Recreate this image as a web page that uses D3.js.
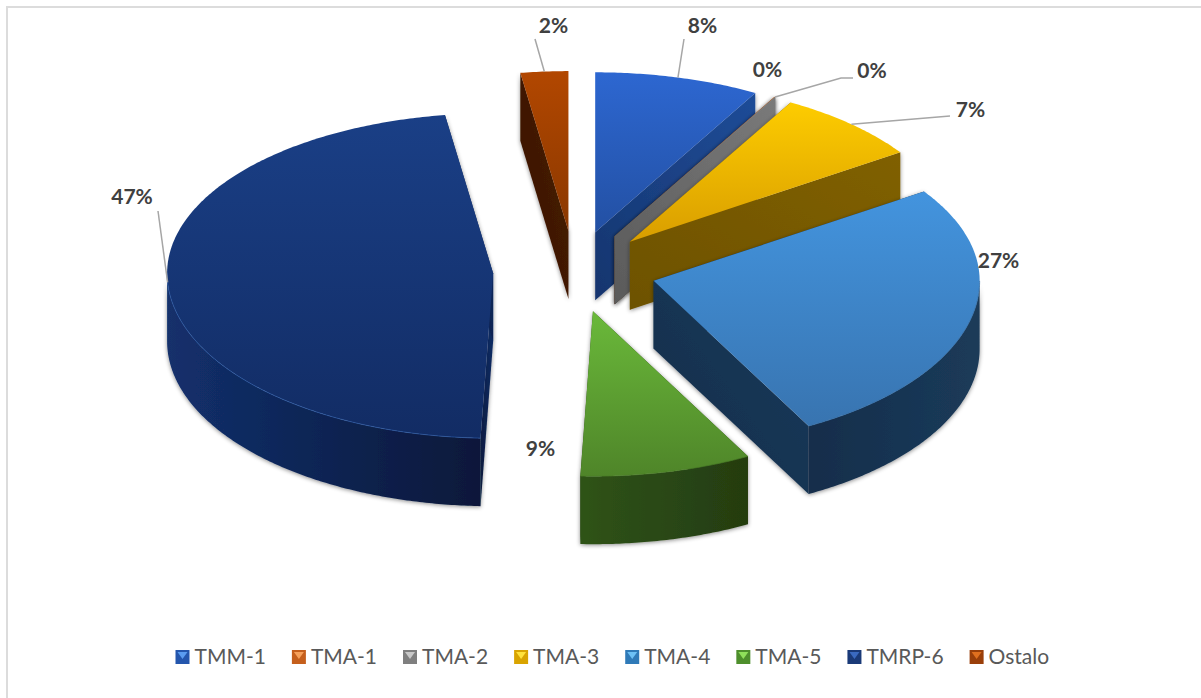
<!DOCTYPE html>
<html><head><meta charset="utf-8">
<script src="https://cdn.jsdelivr.net/npm/d3@7/dist/d3.min.js"></script>
<style>html,body{margin:0;padding:0;background:#fff}svg{display:block}</style></head>
<body><svg id="c" width="1201" height="698"></svg>
<script>
// ---- data ----
const categories = ["TMM-1","TMA-1","TMA-2","TMA-3","TMA-4","TMA-5","TMRP-6","Ostalo"];
const values = [8.17,0.02,0.02,7.36,26.55,8.5,47.03,2.36];
const labelTexts = ["8%","0%","0%","7%","27%","9%","47%","2%"];
// ---- style ----
const topLight  = ["#2d67d1","#ed7d31","#8c8c8c","#fdcc00","#4394de","#6ab93a","#1a3f86","#b24700"];
const topDark   = ["#2350a3","#b85f20","#6e6e6e","#d99e00","#3874b0","#4f8529","#122c64","#8a3800"];
const wallLight = ["#1f4c98","#7a3e12","#7a7a7a","#806000","#1b3b59","#2f5319","#13306c","#4a1e00"];
const wallDark  = ["#15356e","#5a2c0c","#5a5a5a","#6d5200","#142d4b","#243c10","#08183a","#381400"];
const rimColor  = ["#2d67d1","#ed7d31","#8c8c8c","#fdcc00","#2f6aa3","#4a7d26","#2a5aa8","#b24700"];
const legendBase = ["#2456ad","#c55f1c","#7f7f7f","#d9a400","#2f7ab8","#4e8f2c","#1a3a78","#9a3f0a"];
const legendTip  = ["#5a9cf0","#f6a05a","#c8c8c8","#ffe23a","#6cc0f5","#8fe05a","#3a6ac0","#e0701f"];
// labels: anchor centre (x,y) and optional leader elbow
const labelAt = [[702.5,26],[767.5,70],[872,71],[970.5,110],[998.5,261],[540.5,449],[132,197],[553.5,26]];
const leaderEnd = [[[684,39]],null,[[841,78],[853,78]],[[950,116]],null,null,[[158,211]],[[535,39]]];

const cx=574.5, cy=271, rx=326, ryBack=160, ryFront=165, depth=68, explode=0.25;
const svg=d3.select("#c");
const defs=svg.append("defs");

const pie=d3.pie().sort(null).value(d=>d.v)(values.map((v,i)=>({v,i})));
const ry=a=>Math.cos(a)>0?ryBack:ryFront;
const scaleX=d3.scaleLinear().domain([-1,1]).range([-rx,rx]);
const project=(a,c,dz=0)=>[c[0]+scaleX(Math.sin(a)),c[1]-Math.cos(a)*ry(a)+dz];
const line=d3.line();
const arcPts=(a0,a1,c,dz=0)=>{const n=Math.max(2,Math.ceil((a1-a0)/0.01));
  return d3.range(n+1).map(k=>project(a0+(a1-a0)*k/n,c,dz));};

const f=defs.append("filter").attr("id","sh").attr("x","-20%").attr("y","-20%").attr("width","140%").attr("height","140%");
f.append("feDropShadow").attr("dx",0).attr("dy",1).attr("stdDeviation",2).attr("flood-color","#000").attr("flood-opacity",.45);

function grad(id,c0,c1,attrs){
  const g=defs.append("linearGradient").attr("id",id);
  Object.entries(attrs).forEach(([k,v])=>g.attr(k,v));
  g.append("stop").attr("offset",0).attr("stop-color",c0);
  g.append("stop").attr("offset",1).attr("stop-color",c1);
}

pie.forEach(s=>{
  const i=s.data.i, mid=(s.startAngle+s.endAngle)/2;
  s.mid=mid;
  s.c=[cx+explode*scaleX(Math.sin(mid)), cy-explode*Math.cos(mid)*ry(mid)];
  grad("top"+i,topLight[i],topDark[i],{x1:0,y1:0,x2:0,y2:1});
  grad("wall"+i,wallLight[i],wallDark[i],{x1:i===4?1:0,y1:0,x2:i===4?0:1,y2:0});
  grad("rad"+i,wallLight[i],wallDark[i],{x1:1,y1:0,x2:0,y2:1});
});

const order=pie.slice().sort((a,b)=>d3.ascending(-Math.cos(a.mid),-Math.cos(b.mid)));
const slices=svg.append("g").selectAll("g").data(order).join("g");
slices.each(function(s){
  const g=d3.select(this), i=s.data.i, c=s.c;
  const walls=g.append("g").attr("filter","url(#sh)");
  [s.startAngle,s.endAngle].forEach(a=>{
    const p=project(a,c);
    walls.append("path").attr("fill",`url(#rad${i})`)
      .attr("d",line([c,p,[p[0],p[1]+depth],[c[0],c[1]+depth]])+"Z");
  });
  const a0=Math.max(s.startAngle,Math.PI/2), a1=Math.min(s.endAngle,Math.PI*1.5);
  if(a1>a0){
    const pts=arcPts(a0,a1,c).concat(arcPts(a0,a1,c,depth).reverse());
    walls.append("path").attr("fill",`url(#wall${i})`).attr("d",line(pts)+"Z");
  }
  g.append("path").attr("fill",`url(#top${i})`)
    .attr("d",line([c].concat(arcPts(s.startAngle,s.endAngle,c)))+"Z");
  if(a1>a0){
    g.append("path").attr("fill","none").attr("stroke",rimColor[i]).attr("stroke-opacity",.7)
      .attr("stroke-width",1).attr("d",line(arcPts(a0,a1,c)));
  }
});

// frame
svg.append("path").attr("fill","none").attr("stroke","#dcdcdc").attr("stroke-width",2)
  .attr("d","M7,698V7H1201");

// leaders + labels
const lab=svg.append("g");
pie.forEach(s=>{
  const i=s.data.i;
  if(leaderEnd[i]){
    const rimAngle=i===2?s.startAngle:s.mid;
    lab.append("path").attr("fill","none").attr("stroke","#a6a6a6").attr("stroke-width",1.5)
      .attr("d",line([project(rimAngle,s.c)].concat(leaderEnd[i])));
  }
  lab.append("text").text(labelTexts[i]).attr("x",labelAt[i][0]).attr("y",labelAt[i][1]).attr("dy","0.35em")
    .attr("text-anchor","middle").attr("font-family","Lato").attr("font-weight",700).attr("font-size",21).attr("fill","#404040");
});

// legend
const leg=svg.append("g");
let lx=175.5;
categories.forEach((name,i)=>{
  const g=leg.append("g").attr("transform",`translate(${lx},650)`);
  g.append("rect").attr("width",14).attr("height",14).attr("fill",legendBase[i]);
  g.append("path").attr("d","M2,2H12L7,9Z").attr("fill",legendTip[i]);
  const t=g.append("text").text(name).attr("x",19).attr("y",13.5).attr("font-family","Lato").attr("font-size",21).attr("fill","#595959");
  lx+=19+t.node().getComputedTextLength()+26;
});
</script></body></html>
